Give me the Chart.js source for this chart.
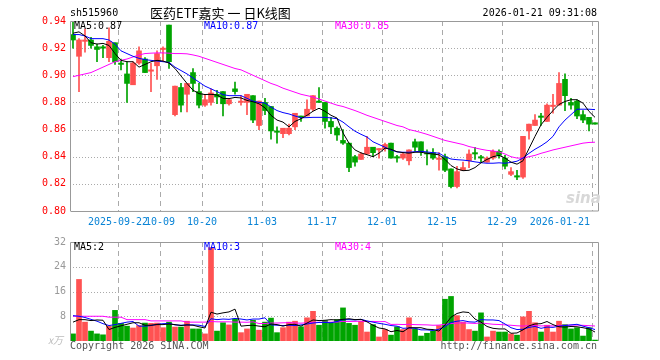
<!DOCTYPE html>
<html>
<head>
<meta charset="utf-8">
<script src="https://cdn.jsdelivr.net/npm/chart.js@4.4.1/dist/chart.umd.min.js"></script>
<style>
  body { margin: 0; background: #fff; }
  #wrap { position: relative; width: 660px; height: 360px; overflow: hidden; font-family: "DejaVu Sans Mono", monospace; font-size: 10px; color: #000; }
  canvas { position: absolute; left: 0; }
  .t { position: absolute; white-space: nowrap; line-height: 12px; }
</style>
</head>
<body>
<div id="wrap">
  <canvas id="kline" width="660" height="232" style="top:0"></canvas>
  <canvas id="vol" width="660" height="128" style="top:232px"></canvas>

  <div class="t" style="left:70px;top:7px">sh515960</div>
  <div class="t" style="left:150px;top:5px;font:13px/16px 'Noto Sans CJK SC',sans-serif">医药ETF嘉实 一 日K线图</div>
  <div class="t" style="right:63px;top:7px">2026-01-21 09:31:08</div>

  <div class="t" id="k-ma5" style="left:74px;top:20px;color:#000"></div>
  <div class="t" id="k-ma10" style="left:204px;top:20px;color:#0000ff"></div>
  <div class="t" id="k-ma30" style="left:335px;top:20px;color:#ff00ff"></div>

  <div class="t" id="v-ma5" style="left:74px;top:241px;color:#000"></div>
  <div class="t" id="v-ma10" style="left:204px;top:241px;color:#0000ff"></div>
  <div class="t" id="v-ma30" style="left:335px;top:241px;color:#ff00ff"></div>

  <div class="t" style="left:566px;top:190px;font:italic bold 15px/16px 'DejaVu Sans',sans-serif;color:#d8d8d8">sina</div>
  <div class="t" style="left:48px;top:334px;font:italic 10px/12px 'Noto Sans CJK SC',sans-serif;color:#bbb">x万</div>
  <div class="t" style="left:70px;top:340px;color:#555">Copyright 2026 SINA.COM</div>
  <div class="t" style="right:63px;top:340px;color:#555">http://finance.sina.com.cn</div>
</div>

<script>
// trading days shown on the chart
const dates = [
  '2025-09-10','2025-09-11','2025-09-12','2025-09-15','2025-09-16','2025-09-17','2025-09-18','2025-09-19',
  '2025-09-22','2025-09-23','2025-09-24','2025-09-25','2025-09-26','2025-09-29','2025-09-30',
  '2025-10-09','2025-10-10','2025-10-13','2025-10-14','2025-10-15','2025-10-16','2025-10-17',
  '2025-10-20','2025-10-21','2025-10-22','2025-10-23','2025-10-24','2025-10-27','2025-10-28','2025-10-29','2025-10-30','2025-10-31',
  '2025-11-03','2025-11-04','2025-11-05','2025-11-06','2025-11-07','2025-11-10','2025-11-11','2025-11-12','2025-11-13','2025-11-14',
  '2025-11-17','2025-11-18','2025-11-19','2025-11-20','2025-11-21','2025-11-24','2025-11-25','2025-11-26','2025-11-27','2025-11-28',
  '2025-12-01','2025-12-02','2025-12-03','2025-12-04','2025-12-05','2025-12-08','2025-12-09','2025-12-10','2025-12-11','2025-12-12',
  '2025-12-15','2025-12-16','2025-12-17','2025-12-18','2025-12-19','2025-12-22','2025-12-23','2025-12-24','2025-12-25','2025-12-26',
  '2025-12-29','2025-12-30','2025-12-31',
  '2026-01-05','2026-01-06','2026-01-07','2026-01-08','2026-01-09','2026-01-12','2026-01-13','2026-01-14','2026-01-15','2026-01-16',
  '2026-01-19','2026-01-20','2026-01-21'
];

// dates with a dashed gridline, and the text printed under them
const markDates  = ['2025-09-22','2025-10-09','2025-10-20','2025-11-03','2025-11-17','2025-12-01','2025-12-15','2025-12-29','2026-01-21'];
const markLabels = ['2025-09-22','10-09','10-20','11-03','11-17','12-01','12-15','12-29','2026-01-21'];

const opens = [
  .930,.914,.925,.926,.921,.921,.913,.924,.909,.901,
  .893,.909,.912,.903,.907,.919,.937,.871,.891,.886,
  .902,.888,.878,.880,.886,.888,.879,.890,.880,.880,
  .885,.863,.880,.877,.859,.857,.857,.862,.870,.870,
  .875,.881,.880,.866,.861,.852,.850,.840,.838,.842,
  .847,.845,.846,.850,.840,.839,.837,.851,.851,.843,
  .843,.838,.840,.831,.818,.830,.837,.843,.840,.836,
  .839,.844,.839,.827,.826,.825,.859,.863,.870,.866,
  .877,.878,.897,.880,.881,.871,.869,.865
];
const highs = [
  .939,.927,.934,.928,.923,.922,.935,.924,.912,.910,
  .910,.921,.913,.909,.918,.921,.937,.892,.894,.894,
  .905,.894,.886,.890,.889,.888,.883,.895,.885,.886,
  .885,.881,.883,.877,.862,.861,.864,.872,.870,.882,
  .885,.891,.880,.869,.862,.860,.850,.841,.843,.855,
  .847,.846,.850,.850,.841,.843,.845,.853,.851,.845,
  .846,.843,.842,.831,.833,.836,.845,.847,.841,.840,
  .845,.845,.841,.832,.830,.855,.864,.871,.872,.879,
  .886,.902,.901,.883,.882,.874,.869,.865
];
const lows = [
  .920,.888,.917,.920,.910,.913,.910,.908,.904,.880,
  .893,.908,.902,.888,.897,.910,.905,.870,.873,.873,
  .888,.876,.877,.878,.879,.870,.878,.886,.878,.871,
  .865,.860,.871,.853,.850,.854,.856,.860,.866,.870,
  .874,.880,.861,.857,.852,.849,.829,.833,.838,.842,
  .840,.839,.844,.839,.836,.838,.834,.844,.841,.834,
  .838,.830,.829,.817,.817,.830,.832,.838,.836,.836,
  .838,.839,.831,.826,.823,.824,.853,.863,.863,.866,
  .872,.878,.874,.875,.868,.865,.859,.864
];
const closes = [
  .926,.926,.926,.922,.919,.920,.925,.910,.908,.894,
  .909,.918,.902,.904,.916,.920,.910,.892,.878,.894,
  .894,.878,.882,.887,.884,.879,.882,.888,.881,.886,
  .867,.881,.874,.859,.858,.861,.861,.872,.869,.875,
  .885,.880,.866,.862,.856,.850,.832,.836,.842,.847,
  .843,.846,.849,.839,.839,.842,.845,.847,.844,.842,
  .839,.839,.830,.818,.829,.832,.842,.842,.839,.839,
  .844,.841,.833,.829,.825,.855,.864,.867,.869,.878,
  .878,.894,.885,.878,.870,.867,.864,.864
];

// price moving averages as drawn
const ma5 = [
  .931,.932,.929,.924,.923,.9235,.922,.916,.911,.910,
  .910,.906,.908,.910,.911,.9105,.909,.905,.8995,.894,
  .889,.8865,.8858,.886,.8855,.883,.8828,.8837,.8833,.8815,
  .8805,.879,.876,.8705,.867,.8655,.862,.866,.868,.8705,
  .8735,.8757,.8735,.8705,.8685,.8575,.850,.845,.8428,.8415,
  .840,.8426,.8463,.8455,.8437,.843,.8426,.8433,.8433,.8425,
  .842,.8414,.838,.8335,.831,.8297,.830,.832,.8355,.838,
  .840,.841,.839,.836,.8345,.837,.846,.855,.8635,.869,
  .874,.8785,.8807,.882,.882,.8795,.8734,.869
];
const ma10 = [
  .930,.930,.929,.927,.927,.927,.926,.923,.918,.916,
  .914,.9125,.9115,.911,.9105,.910,.9095,.906,.9035,.901,
  .898,.895,.892,.890,.888,.8857,.885,.885,.885,.883,
  .881,.880,.8796,.8766,.874,.8725,.8715,.870,.8687,.8688,
  .869,.869,.869,.8686,.868,.8655,.862,.8588,.8565,.8545,
  .851,.849,.847,.845,.8435,.8433,.8433,.8437,.844,.8435,
  .843,.8426,.840,.8383,.8378,.8375,.837,.8362,.8356,.8352,
  .8352,.8355,.8352,.8358,.8367,.839,.8425,.8455,.848,.851,
  .855,.862,.867,.871,.875,.875,.875,.8747
];
const ma30 = [
  .899,.900,.901,.902,.904,.906,.908,.910,.911,.912,
  .9135,.915,.916,.9163,.9165,.9165,.9163,.916,.916,.9158,
  .915,.914,.9125,.911,.9095,.908,.9065,.905,.904,.902,
  .900,.898,.896,.894,.8925,.8905,.889,.8875,.886,.885,
  .884,.8825,.881,.8795,.878,.877,.8755,.874,.8723,.8705,
  .869,.8675,.866,.8645,.863,.862,.860,.859,.8578,.8565,
  .855,.8535,.852,.851,.850,.849,.8475,.8465,.8455,.8447,
  .8442,.8435,.842,.840,.839,.839,.840,.841,.8425,.8437,
  .845,.846,.847,.848,.849,.850,.8505,.8507
];

// volume (x万) and its moving averages
const volumes = [
  2.3,19.9,6.1,3.2,2.3,2.0,4.8,9.9,5.7,4.8,
  4.2,5.0,5.8,5.7,5.8,4.3,6.1,4.5,4.5,6.4,
  3.9,3.9,2.3,30.2,3.2,5.9,5.2,7.1,2.7,3.9,
  6.7,3.5,6.1,7.4,2.7,4.3,6.1,6.4,4.6,7.5,
  9.6,5.1,6.6,5.9,6.9,10.7,5.7,5.1,6.4,2.9,
  5.3,1.3,3.7,1.9,4.6,3.7,7.5,3.9,1.6,2.5,
  3.2,5.0,13.5,14.4,8.2,6.1,3.7,3.2,9.1,1.3,
  3.2,2.9,2.9,2.3,1.9,7.8,9.6,5.9,2.9,5.1,
  2.9,6.4,5.3,3.9,4.3,1.6,4.3,0.3
];
const volMa5 = [
  6.1,6.9,6.9,6.6,6.8,6.7,3.7,4.4,4.9,5.4,
  5.9,5.9,5.1,5.1,5.3,5.3,5.5,5.3,5.0,5.2,
  5.1,4.6,4.2,9.3,8.7,9.1,9.4,10.3,4.8,5.0,
  5.1,4.8,4.6,5.5,5.3,4.8,5.3,5.4,4.8,5.8,
  6.8,6.6,6.7,6.9,6.8,7.0,7.2,6.9,7.0,6.2,
  5.1,4.2,3.9,3.0,3.4,3.0,4.3,4.3,4.3,3.8,
  3.7,3.2,5.2,7.7,8.9,9.4,9.2,7.1,6.1,4.7,
  4.1,3.9,3.9,2.5,2.6,3.6,4.9,5.5,5.6,6.3,
  5.3,4.6,4.5,4.7,4.6,4.3,3.9,2.9
];
const volMa10 = [
  8.2,8.0,7.6,7.0,6.4,5.6,5.0,5.3,5.7,6.1,
  6.3,4.8,4.8,5.0,5.4,5.6,5.7,5.2,5.1,5.2,
  5.2,5.1,4.7,7.2,6.9,7.1,7.0,7.3,7.1,6.8,
  7.1,7.1,7.5,5.2,5.1,5.0,5.1,5.0,5.2,5.5,
  5.8,6.0,6.0,5.9,6.3,6.9,6.9,6.8,7.0,6.5,
  6.1,5.7,5.4,5.0,4.8,4.1,4.2,4.1,3.6,3.6,
  3.4,3.8,4.7,6.0,6.4,6.6,6.2,6.1,6.9,6.8,
  6.8,6.6,5.5,4.3,3.7,3.8,4.4,4.7,4.1,4.5,
  4.4,4.8,5.0,5.2,5.4,4.8,4.3,3.7
];
const volMa30 = [
  8.0,8.0,8.0,8.0,8.0,8.0,7.7,7.7,7.7,6.9,
  6.9,6.9,6.9,6.5,6.5,6.5,6.5,6.5,6.5,6.1,
  6.1,6.1,6.1,6.3,6.2,6.2,6.2,6.1,6.1,6.05,
  6.20,5.65,5.65,5.79,5.81,5.88,5.93,5.81,5.77,5.86,
  6.04,6.05,6.07,6.08,6.12,6.33,6.32,6.34,6.40,6.28,
  6.33,6.24,6.29,5.35,5.39,5.32,5.40,5.29,5.25,5.21,
  5.09,5.14,5.39,5.62,5.80,5.86,5.78,5.68,5.83,5.62,
  5.41,5.33,5.21,5.09,4.92,4.83,4.96,4.98,4.87,4.94,
  4.86,5.03,5.08,5.15,5.14,5.07,4.96,4.84
];

const UP = '#ff5252', DOWN = '#00a400';
const MONO = 'DejaVu Sans Mono';
const candleColor = closes.map((c, i) => c >= opens[i] ? UP : DOWN);

// legends
const last = a => a[a.length - 1];
document.getElementById('k-ma5').textContent = 'MA5:' + last(ma5).toFixed(2);
document.getElementById('k-ma10').textContent = 'MA10:' + last(ma10).toFixed(2);
document.getElementById('k-ma30').textContent = 'MA30:' + last(ma30).toFixed(2);
document.getElementById('v-ma5').textContent = 'MA5:' + Math.floor(last(volMa5));
document.getElementById('v-ma10').textContent = 'MA10:' + Math.floor(last(volMa10));
document.getElementById('v-ma30').textContent = 'MA30:' + Math.floor(last(volMa30));

// grid, frame and date labels
function framePlugin(showDates, bottomBorder) {
  return {
    id: 'frame',
    beforeDatasetsDraw(chart) {
      const { ctx, chartArea: a, scales: { x, y } } = chart;
      const slot = (a.right - a.left) / dates.length;
      ctx.save();
      ctx.strokeStyle = '#aaa';
      ctx.lineWidth = 1;
      ctx.setLineDash([1, 2]);
      y.ticks.forEach(t => {
        if (t.value <= y.min + 1e-9 || t.value >= y.max - 1e-9) return;
        const py = Math.round(y.getPixelForValue(t.value)) + 0.5;
        ctx.beginPath(); ctx.moveTo(a.left, py); ctx.lineTo(a.right, py); ctx.stroke();
      });
      ctx.setLineDash([5, 4]);
      markDates.forEach(d => {
        const px = Math.round(x.getPixelForValue(dates.indexOf(d)) - slot / 2) + 0.5;
        ctx.beginPath(); ctx.moveTo(px, a.top); ctx.lineTo(px, a.bottom); ctx.stroke();
      });
      ctx.restore();
    },
    afterDraw(chart) {
      const { ctx, chartArea: a, scales: { x } } = chart;
      const slot = (a.right - a.left) / dates.length;
      ctx.save();
      ctx.strokeStyle = '#999';
      ctx.lineWidth = 1;
      ctx.beginPath();
      ctx.moveTo(a.left + 0.5, a.bottom);
      ctx.lineTo(a.left + 0.5, a.top + 0.5);
      ctx.lineTo(a.right + 0.5, a.top + 0.5);
      ctx.lineTo(a.right + 0.5, a.bottom);
      if (bottomBorder) ctx.lineTo(a.left + 0.5, a.bottom + 0.5);
      ctx.stroke();
      if (showDates) {
        ctx.font = '10px "' + MONO + '"';
        ctx.fillStyle = '#0a84d6';
        ctx.textBaseline = 'middle';
        markDates.forEach((d, k) => {
          const px = x.getPixelForValue(dates.indexOf(d)) - slot / 2;
          const isLast = k === markDates.length - 1;
          ctx.textAlign = isLast ? 'right' : 'center';
          ctx.fillText(markLabels[k], isLast ? px - 2 : px, a.bottom + 11);
        });
      }
      ctx.restore();
    }
  };
}

const lineDs = (data, color) => ({
  type: 'line', data, borderColor: color, borderWidth: 1,
  pointRadius: 0, tension: 0, fill: false, order: 0
});

new Chart(document.getElementById('kline'), {
  type: 'bar',
  data: {
    labels: dates,
    datasets: [
      lineDs(ma5, '#000000'),
      lineDs(ma10, '#0000ff'),
      lineDs(ma30, '#ff00ff'),
      {
        data: opens.map((o, i) => [Math.min(o, closes[i]), Math.max(o, closes[i])]),
        backgroundColor: candleColor, barThickness: 5, minBarLength: 1, grouped: false, order: 1
      },
      {
        data: lows.map((l, i) => [l, highs[i]]),
        backgroundColor: candleColor, barThickness: 1, grouped: false, order: 2
      }
    ]
  },
  options: {
    responsive: false, animation: false, devicePixelRatio: 1,
    layout: { padding: { top: 21, right: 62, bottom: 21, left: 0 } },
    plugins: { legend: { display: false }, tooltip: { enabled: false } },
    scales: {
      x: { display: false, offset: true },
      y: {
        min: 0.80, max: 0.94,
        afterFit(s) { s.width = 70; },
        grid: { display: false, drawTicks: false },
        border: { display: false },
        ticks: { stepSize: 0.02, color: '#ff0000', padding: 4, font: { family: MONO, size: 10 }, callback: v => v.toFixed(2) }
      }
    }
  },
  plugins: [framePlugin(true, true)]
});

new Chart(document.getElementById('vol'), {
  type: 'bar',
  data: {
    labels: dates,
    datasets: [
      lineDs(volMa5, '#000000'),
      lineDs(volMa10, '#0000ff'),
      lineDs(volMa30, '#ff00ff'),
      { data: volumes, backgroundColor: candleColor, barThickness: 5, order: 1 }
    ]
  },
  options: {
    responsive: false, animation: false, devicePixelRatio: 1,
    layout: { padding: { top: 8, right: 62, bottom: 19, left: 0 } },
    plugins: { legend: { display: false }, tooltip: { enabled: false } },
    scales: {
      x: { display: false, offset: true },
      y: {
        min: 0, max: 32,
        afterFit(s) { s.width = 70; },
        grid: { display: false, drawTicks: false },
        border: { display: false },
        ticks: { stepSize: 8, color: '#999', padding: 4, font: { family: MONO, size: 10 }, callback: v => v === 0 ? '' : v }
      }
    }
  },
  plugins: [framePlugin(false, false)]
});
</script>
</body>
</html>
